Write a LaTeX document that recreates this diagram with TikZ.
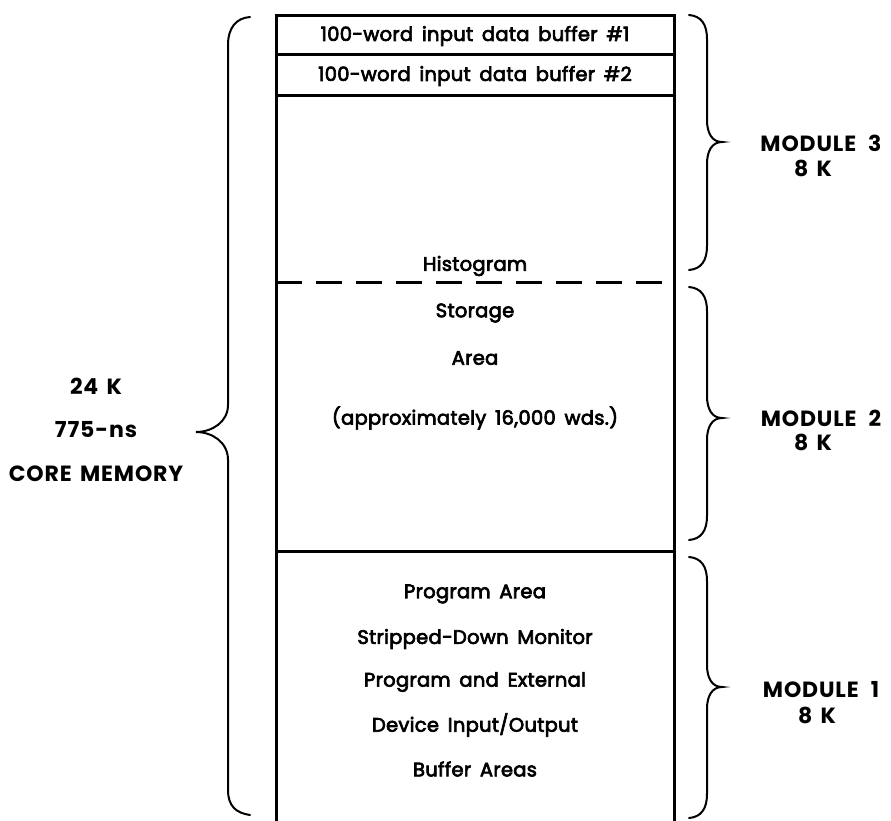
\documentclass[tikz,border=0pt]{standalone}
\usepackage{fontspec}
\setmainfont{Poppins}
\newfontfamily\boxfont{Poppins}[FakeBold=3.5,WordSpace=1.6,LetterSpace=1.5]
\newfontfamily\capfont{Poppins}[LetterSpace=4,WordSpace=1.5]
\begin{document}
\begin{tikzpicture}[x=1pt,y=-1pt,
  wall/.style={line width=3pt},
  brc/.style={line width=2pt,line cap=round},
  lbl/.style={font=\boxfont\fontsize{19.5}{22}\selectfont,inner sep=0pt},
  side/.style={font=\capfont\bfseries\fontsize{22}{26}\selectfont,inner sep=0pt}]
\useasboundingbox (0,0) rectangle (891,820);
% memory block outline
\draw[wall] (276,830) -- (276,15) -- (674,15) -- (674,830);
\draw[wall] (276,54) -- (674,54);
\draw[wall] (276,95) -- (674,95);
\draw[wall] (276,551) -- (674,551);
\draw[wall,dash pattern=on 26pt off 14pt] (276,282) -- (674,282);
% contents of the block
\node[lbl] (b1) at (475,36) {100-word input data buffer \#1};
\node[lbl] (b2) at (475,76) {100-word input data buffer \#2};
\node[lbl] (hist) at (475,266) {Histogram};
\node[lbl] (stor) at (475,313) {Storage};
\node[lbl] (area) at (475,358) {Area};
\node[lbl] (appr) at (475,418) {(approximately 16,000 wds.)};
\node[lbl] (p1) at (475,594) {Program Area};
\node[lbl] (p2) at (475,639) {Stripped-Down Monitor};
\node[lbl] (p3) at (475,682) {Program and External};
\node[lbl] (p4) at (475,725) {Device Input/Output};
\node[lbl] (p5) at (475,769) {Buffer Areas};
% brace round the whole memory
\draw[brc] (250,17) .. controls (236,18) and (228,28) .. (228,45)
  -- (228,405) .. controls (228,422) and (212,432) .. (196,432)
  .. controls (212,432) and (228,442) .. (228,460)
  -- (228,790) .. controls (228,806) and (236,813) .. (250,815);
\node[side] (k24) at (96,386) {24 K};
\node[side] (ns) at (96,430) {775-ns};
\node[side] (core) at (96,474) {CORE MEMORY};
% one brace per module
\foreach \t/\b/\m in {15/270/142, 287/540/418, 557/818/687}{
  \draw[brc] (689,\t) .. controls (701,\t+1) and (707,\t+9) .. (707,\t+24)
    -- (707,\m-22) .. controls (707,\m-9) and (712,\m) .. (722,\m)
    .. controls (712,\m) and (707,\m+9) .. (707,\m+22)
    -- (707,\b-24) .. controls (707,\b-9) and (701,\b-1) .. (689,\b);
}
\node[side] (m3) at (821,143) {MODULE\hspace{12pt}3};
\node[side] (m3k) at (813,168) {8 K};
\node[side] (m2) at (821,418) {MODULE\hspace{12pt}2};
\node[side] (m2k) at (813,442) {8 K};
\node[side] (m1) at (821,690) {MODULE\hspace{12pt}1};
\node[side] (m1k) at (817,715) {8 K};
\end{tikzpicture}
\end{document}
